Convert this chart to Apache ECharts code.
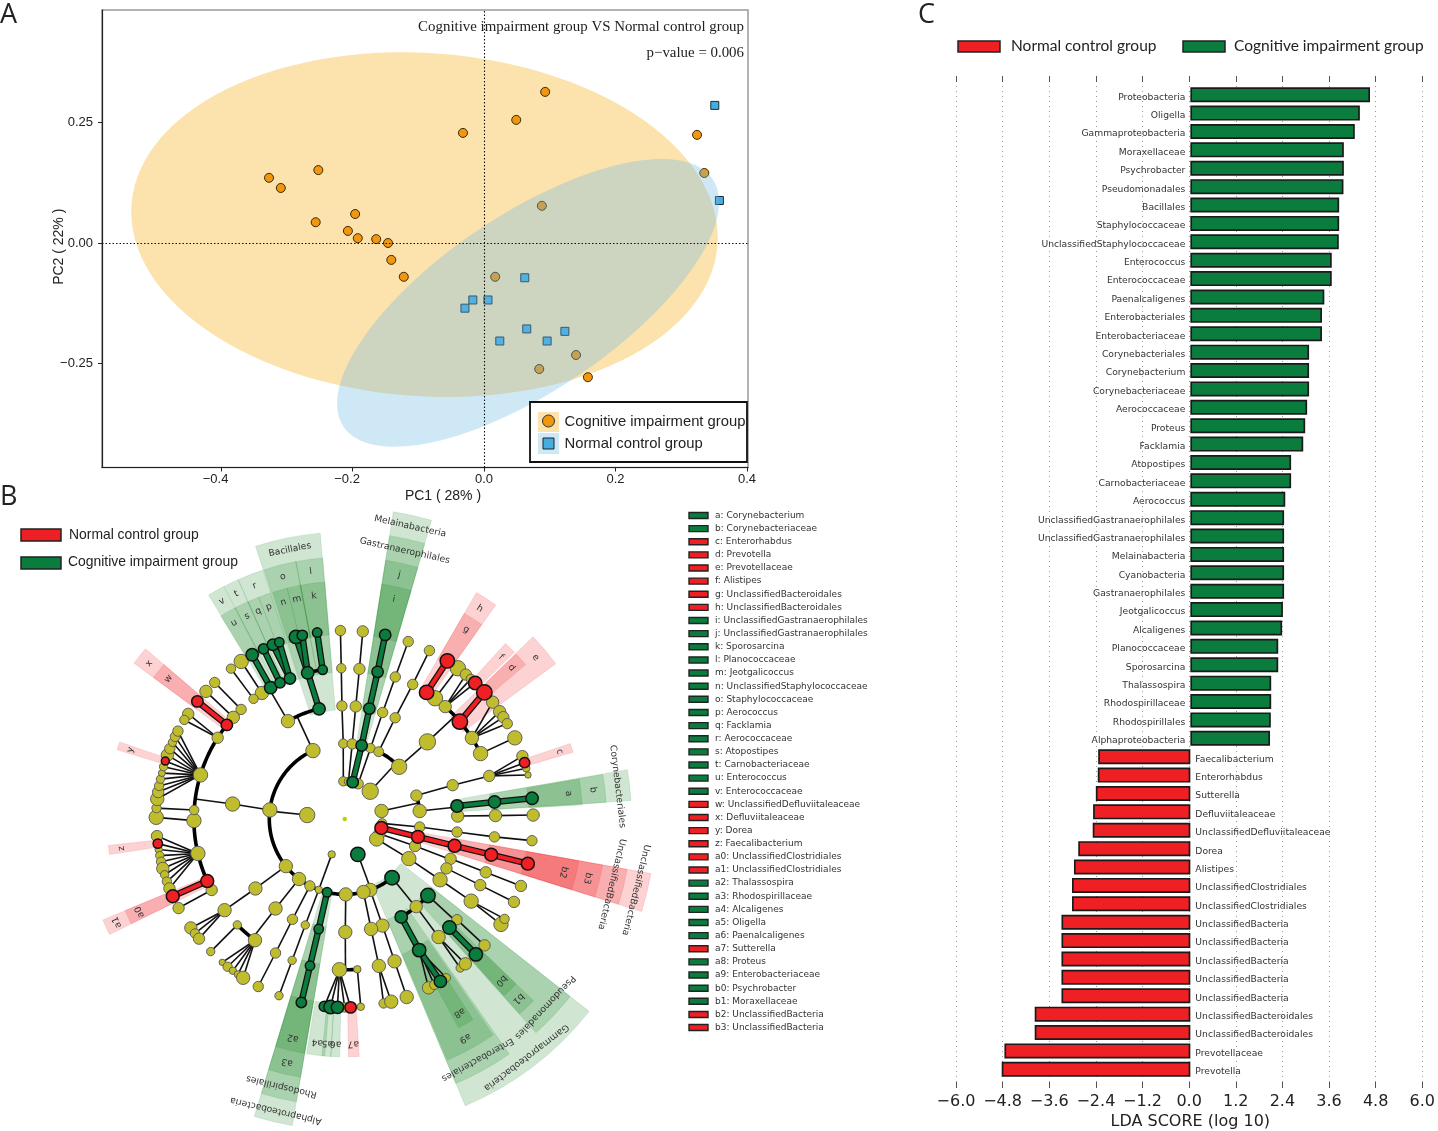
<!DOCTYPE html>
<html><head><meta charset="utf-8">
<style>html,body{margin:0;padding:0;background:#fff}#c{width:1438px;height:1131px}</style>
<script src="https://cdn.jsdelivr.net/npm/echarts@6/dist/echarts.min.js"></script>
</head><body><div id="c"></div>
<script>
// ---------- Panel A data: PCoA scores [PC1, PC2]
const pcoaCognitive = [[0.093,0.313],[0.049,0.255],[-0.032,0.228],[0.324,0.224],[0.335,0.145],[0.088,0.077],[-0.252,0.151],[-0.327,0.135],[-0.309,0.114],[-0.196,0.060],[-0.256,0.043],[-0.207,0.025],[-0.192,0.010],[-0.164,0.008],[-0.146,0.000],[-0.141,-0.035],[-0.122,-0.070],[0.017,-0.070],[0.140,-0.232],[0.084,-0.261],[0.158,-0.278]];
const pcoaNormal = [[0.351,0.285],[0.358,0.088],[0.062,-0.072],[-0.017,-0.118],[0.006,-0.118],[-0.029,-0.135],[0.065,-0.178],[0.123,-0.183],[0.024,-0.203],[0.096,-0.203]];
// confidence ellipses: centre x, centre y, half-extent x, half-extent y, correlation
const ellipseCognitive = [-0.0905,0.038,0.446,0.357,-0.075];
const ellipseNormal = [0.067,-0.124,0.2905,0.298,0.70];
const pcTicksX = [-0.4,-0.2,0,0.2,0.4];
const pcTicksY = [-0.25,0,0.25];

// ---------- Panel C data: LDA scores
const ldaTaxa = ['Proteobacteria','Oligella','Gammaproteobacteria','Moraxellaceae','Psychrobacter','Pseudomonadales','Bacillales','Staphylococcaceae','UnclassifiedStaphylococcaceae','Enterococcus','Enterococcaceae','Paenalcaligenes','Enterobacteriales','Enterobacteriaceae','Corynebacteriales','Corynebacterium','Corynebacteriaceae','Aerococcaceae','Proteus','Facklamia','Atopostipes','Carnobacteriaceae','Aerococcus','UnclassifiedGastranaerophilales','UnclassifiedGastranaerophilales','Melainabacteria','Cyanobacteria','Gastranaerophilales','Jeotgalicoccus','Alcaligenes','Planococcaceae','Sporosarcina','Thalassospira','Rhodospirillaceae','Rhodospirillales','Alphaproteobacteria','Faecalibacterium','Enterorhabdus','Sutterella','Defluviitaleaceae','UnclassifiedDefluviitaleaceae','Dorea','Alistipes','UnclassifiedClostridiales','UnclassifiedClostridiales','UnclassifiedBacteria','UnclassifiedBacteria','UnclassifiedBacteria','UnclassifiedBacteria','UnclassifiedBacteria','UnclassifiedBacteroidales','UnclassifiedBacteroidales','Prevotellaceae','Prevotella'];
const ldaScores = [4.60,4.34,4.21,3.93,3.93,3.92,3.81,3.81,3.80,3.62,3.62,3.43,3.37,3.37,3.04,3.04,3.04,2.99,2.94,2.89,2.58,2.58,2.43,2.40,2.40,2.40,2.40,2.40,2.37,2.35,2.25,2.25,2.07,2.07,2.06,2.04,-2.36,-2.37,-2.42,-2.49,-2.50,-2.87,-2.98,-3.03,-3.03,-3.30,-3.30,-3.30,-3.30,-3.30,-3.985,-3.985,-4.76,-4.83];

// ---------- Panel B data: cladogram nodes
// [clade path, bearing in degrees, node size, group]; path length is the taxonomic ring, path minus last char is the parent
const G='g', R='r';
const cladeNodes = [
['A',357.9,9],['A1',358.9,9],['A11',358.6,10],['A111',358.7,9],['A1111',358.7,10],
['B',5.7,8],['B1',5.7,10],['B11',5.6,11],['B111',5.6,11],['B1111',5.5,11],
['C',12.2,11,G],['C1',13,11,G],['C11',12.6,11,G],['C111',12.6,11,G],['C1111',12.4,11,G],
['D',20.9,10],['D1',20,9],['D11',19.6,10],['D111',19.6,10],['D1111',19.7,10],
['E',42.6,16],['E1',26.8,9.5],['E11',26.5,10],['E111',26.8,10],['E1111',26.7,10],['E2',46.2,15],['E21',47,16],
['E211',32.9,14,R],['E2111',33,14,R],['E212',36.8,15],['E2121',36.9,15],['E213',41.8,12],['E2131',40,11],['E2133',42,9],['E2132',43.8,13,R],
['E214',49.8,15,R],['E2141',47.8,15,R],['E215',57.5,13],['E2151',51.7,12],['E2152',55.3,12],['E2153',57.3,11],['E2154',59.6,10],['E216',64.3,14],['E2161',64.5,14],
['F',77.7,13],['F1',71.9,11],['F11',72.6,11],['F111',73.4,11],['F1111',70.5,11],['F1113',74.4,7],['F1114',76.5,6],['F1112',72.6,10,R],
['F2',83.9,13],['F21',83.4,12,G],['F211',83.5,12,G],['F2111',83.7,12,G],['F22',88.5,12],['F221',88.7,12],['F2211',88.8,12],
['G',96.6,9],['G1',96.1,10],['G11',96.6,10],['G111',96.8,10],['G1111',96.6,10],
['I',113,11],['I1',111,11],['I11',110.6,11],['I111',110.7,11],['I1111',110.8,11],['I12',115.9,11],['I121',116,11],['I1211',116.1,11],
['J',122,14],['J1',121.7,14],['J11',122.5,14],['J111',123,14],['J1111',124,14],['J1112',122,9],
['H',103.7,12.5,R],['H1',103.7,12.5,R],['H11',103.7,12.5,R],['H111',103.7,12.5,R],['H1111',103.7,12.5,R],
['K',159.6,14,G],['K1',141.1,14,G],['K11',132.6,14,G],['K111',136,13,G],['K1111',135.9,13,G],['K112',131.9,10],['K1121',132.1,11],
['K12',140.8,12],['K121',141.5,13],['K1211',142.2,8],['K1212',140.2,12],
['K13',150,12,G],['K131',150.4,13,G],['K1312',147.4,8],['K1313',153.6,12],['K1314',151.6,9],['K1311',149.5,12,G],
['K2',160.2,13],['K21',160.5,13],['K211',160.7,13],['K2111',160.8,13],
['K3',165.6,13],['K31',166.5,13],['K311',166.9,13],['K3111',168.1,9],['K3112',165.7,13],
['K4',179.2,13],['K41',179.7,13],['K411',182,14],['K4114',180,9],['K4111',186.2,10,G],['K4112',184.3,13,G],['K4113',182.2,12,G],['K4115',178.2,11,R],['K412',175.2,7],['K4121',175.1,7],
['K5',193.5,9,G],['K51',193.3,9,G],['K511',193.3,9,G],['K5111',193.3,10,G],
['K6',207.5,10],['K61',207.5,10],['K611',207.3,10],['K6111',207.3,10],
['K7',217.3,13],['K71',217.7,13],['K711',216.5,13],['K7111',220.5,6],['K7112',218.4,9],['K7113',216.4,7],['K7114',214.5,7],['K7115',212.6,13],['K712',225.4,8],['K7121',225.3,8],
['L',200.2,7],['L1',200.1,7],['L11',200.4,8],['L111',200.4,8],['L1111',200.4,8],
['M',276,15],['M1',231.3,13],['M11',232.1,13],['M111',232.8,13],['M1111',234.7,12],['M1112',232.6,9],['M1113',230.6,11],
['M2',276.9,14],['M21',277.6,14],
['M212',241.9,11],['M2121',241.8,11],['M213',256.8,14],['M2131',264.8,11],['M2133',260.7,7],['M2134',258.8,8],['M2135',256.9,9],['M2136',254.8,12],['M2137',252.8,8],['M2138',250.6,9],['M2139',248.4,11],['M2132',262.5,9,R],
['M211',245.7,12.5,R],['M2111',245.8,12.5,R],
['M214',269.4,14],['M2141',270.5,14],['M215',273.4,9],['M2151',273.3,9],
['M216',287,14],['M216a',276.1,13],['M216b',278.2,11],['M216c',280.1,9],['M216d',282.2,8],['M216e',284.1,6.5],['M216f',286.1,8],['M216h',289.8,12],['M216i',291.9,10],['M216j',294,8],['M216k',295.9,9.5],['M216l',297.8,10],['M216g',287.9,7.5,R],
['M217',302.6,11],['M2171',303.9,11],['M2172',301.7,9],['M219',312.4,12],['M2191',312.6,12],['M21a',316.6,10],['M21a1',316.4,10],
['M218',308.6,11,R],['M2181',308.6,11,R],
['M3',335.1,14],['M31',329.9,13],['M311',326.7,13],['M3111',326.7,14],['M312',322.8,9],['M3121',322.9,9],
['M313',330.6,12,G],['M3131',330.6,12,G],['M314',334.6,10,G],['M3141',334.5,10,G],['M315',338.7,11,G],['M3151',337.6,11,G],['M3152',339.7,9,G],
['M32',346.9,12,G],['M321',345.8,12,G],['M3211',345,13,G],['M3212',347,10,G],['M322',351.6,9,G],['M3221',351.6,9,G]
];
const cladeRoot = [[0,0,4]];
const cladeExtraArcs = [[2,217.3,231.3]];
// shaded wedges: [label, ring, centre bearing, half span, group]
const cladeWedges = [
['Gammaproteobacteria',2,142.7,14.5,G],['Pseudomonadales',3,133.2,5,G],['b1',4,136,2.1,G],['b0',5,135.9,2,G],
['Enterobacteriales',3,151.1,6.1,G],['a9',4,151.2,5.7,G],['a8',5,149.4,2,G],
['Corynebacteriales',3,83.2,3.1,G],['b',4,83.3,3.1,G],['a',5,83.5,3.1,G],
['c',5,72.6,1.1,R],['e',4,49.8,3.85,R],['d',5,47.8,1.7,R],['f',5,44,1.5,R],
['h',4,32.7,2.5,R],['g',5,32.7,2.5,R],
['Melainabacteria',2,12.6,3.6,G],['Gastranaerophilales',3,12.6,3.6,G],['j',4,12.6,3.6,G],['i',5,12.6,3.6,G],
['Bacillales',3,348.5,6.6,G],['l',4,352.2,3,G],['k',5,352.2,3,G],['o',4,345.7,3.6,G],['n',5,344.2,1.8,G],['m',5,347.7,1.7,G],
['p',5,340.3,1.5,G],['q',5,337.4,1.4,G],['s',5,334.3,1.7,G],['u',5,330.6,2,G],['r',4,338.9,2.9,G],['t',4,334.3,1.7,G],['v',4,330.6,1.9,G],
['x',4,308.5,2,R],['w',5,308.5,2,R],['y',5,287.9,1,R],['z',5,262.5,1.1,R],['a1',4,245.6,1.75,R],['a0',5,245.6,1.75,R],
['Alphaproteobacteria',2,193.3,3.6,G],['Rhodospirillales',3,193.3,3.6,G],['a3',4,193.3,3.6,G],['a2',5,193.3,3.6,G],
['a4',5,187,2.2,G],['a5',5,184.4,1.1,G],['a6',5,182.3,1.1,G],['a7',5,177.8,1.3,R],
['UnclassifiedBacteria',2,103.7,3.6,R],['UnclassifiedBacteria',3,103.7,3.6,R],['b3',4,103.7,3.6,R],['b2',5,103.7,3.6,R]
];
const cladeKey = [['a: Corynebacterium',G],['b: Corynebacteriaceae',G],['c: Enterorhabdus',R],['d: Prevotella',R],['e: Prevotellaceae',R],['f: Alistipes',R],['g: UnclassifiedBacteroidales',R],['h: UnclassifiedBacteroidales',R],['i: UnclassifiedGastranaerophilales',G],['j: UnclassifiedGastranaerophilales',G],['k: Sporosarcina',G],['l: Planococcaceae',G],['m: Jeotgalicoccus',G],['n: UnclassifiedStaphylococcaceae',G],['o: Staphylococcaceae',G],['p: Aerococcus',G],['q: Facklamia',G],['r: Aerococcaceae',G],['s: Atopostipes',G],['t: Carnobacteriaceae',G],['u: Enterococcus',G],['v: Enterococcaceae',G],['w: UnclassifiedDefluviitaleaceae',R],['x: Defluviitaleaceae',R],['y: Dorea',R],['z: Faecalibacterium',R],['a0: UnclassifiedClostridiales',R],['a1: UnclassifiedClostridiales',R],['a2: Thalassospira',G],['a3: Rhodospirillaceae',G],['a4: Alcaligenes',G],['a5: Oligella',G],['a6: Paenalcaligenes',G],['a7: Sutterella',R],['a8: Proteus',G],['a9: Enterobacteriaceae',G],['b0: Psychrobacter',G],['b1: Moraxellaceae',G],['b2: UnclassifiedBacteria',R],['b3: UnclassifiedBacteria',R]];

// ---------- styling
const GREEN='#0a7d3e', RED='#ee2024', YEL='#bfbd2e';
const colorOf = g => g===G?GREEN:RED;
const wedgeOuter = {5:6.31,4:6.95,3:7.61,2:8.25};
const wedgeText = {5:5.97,4:6.63,3:7.29,2:7.95};
const minus = s => String(s).replace('-','\u2212');

// ---------- cladogram edges built from the node paths
const nodeById = {}; cladeNodes.forEach(n=>nodeById[n[0]]=n);
const kids = {}; cladeNodes.forEach(n=>{ if(n[0].length>1){const p=n[0].slice(0,-1); (kids[p]=kids[p]||[]).push(n);} });
const cladeEdges = [];
const arcPts = (ring,a,b)=>{const o=[],lo=Math.min(a,b),hi=Math.max(a,b);for(let t=lo;t<hi;t+=1)o.push([ring,t]);o.push([ring,hi]);return o;};
Object.keys(kids).forEach(pid=>{
  const P=nodeById[pid], cs=kids[pid], pr=pid.length, cr=pr+1;
  if(cs.length===1||cr===5){
    cs.forEach(c=>cladeEdges.push({pts:[[pr,P[1]],[cr,c[1]]],kind:(P[3]&&c[3]&&P[3]===c[3])?c[3]:'thin'}));
  } else {
    const bs=cs.map(c=>c[1]);
    cladeEdges.push({pts:[[pr,P[1]],[cr,P[1]]],kind:'thin'});
    cladeEdges.push({pts:arcPts(cr,Math.min(...bs),Math.max(...bs)),kind:'arc'});
    cs.forEach(c=>{ if(P[3]&&c[3]===P[3]&&Math.abs(c[1]-P[1])<3) cladeEdges.push({pts:[[pr,P[1]],[cr,c[1]]],kind:c[3]}); });
  }
});
cladeExtraArcs.forEach(a=>cladeEdges.push({pts:arcPts(a[0],a[1],a[2]),kind:'arc'}));
cladeEdges.sort((a,b)=>(a.kind===G||a.kind===R?1:0)-(b.kind===G||b.kind===R?1:0));

function ellipseRender(fill){
  return function(params,api){
    const cx=api.value(0),cy=api.value(1),sx=api.value(2),sy=api.value(3),rho=api.value(4),pts=[];
    for(let i=0;i<120;i++){const t=i/120*Math.PI*2;
      pts.push(api.coord([cx+sx*Math.cos(t),cy+sy*(rho*Math.cos(t)+Math.sqrt(1-rho*rho)*Math.sin(t))]));}
    return {type:'polygon',shape:{points:pts},style:{fill:fill,stroke:null}};
  };
}
const scat = (arr)=>arr.map(n=>[n[0].length,n[1],n[2]]);
const nodeSeries = (arr,fill,bc,bw,z)=>({type:'scatter',coordinateSystem:'polar',data:scat(arr),symbolSize:v=>v[2]+0.4,
  itemStyle:{color:fill,borderColor:bc,borderWidth:bw,opacity:1},z:z,silent:true,clip:false,animation:false});

const keyGraphics=[];
cladeKey.forEach((k,i)=>{
  const y=515.5+i*13.13;
  keyGraphics.push({type:'rect',shape:{x:689,y:y-3,width:19,height:6},style:{fill:colorOf(k[1]),stroke:'#222',lineWidth:1.4}});
  keyGraphics.push({type:'text',x:715,y:y,style:{text:k[0],font:'9px "DejaVu Sans"',fill:'#333',verticalAlign:'middle'}});
});
const txt=(x,y,t,font,extra)=>Object.assign({type:'text',x:x,y:y,style:Object.assign({text:t,font:font,fill:'#222',verticalAlign:'middle'},extra||{})});
const swatch=(x,y,w,h,fill)=>({type:'rect',shape:{x:x,y:y,width:w,height:h},style:{fill:fill,stroke:'#222',lineWidth:1.5}});
const negPad = '\u00a0\u00a0\u00a0';

const option={
  animation:false,backgroundColor:'#fff',
  grid:[
    {left:102,top:10,width:646,height:457.5,show:true,borderColor:'#999',borderWidth:1.5,backgroundColor:'#fff'},
    {left:956,top:76,width:468.7,height:1012,show:false},
    {left:956,top:85.5,width:468.7,height:993,show:false}
  ],
  polar:{center:[344.7,819],radius:[0,339.3]},
  radiusAxis:{min:0,max:9,show:false,axisLine:{show:false},axisTick:{show:false},axisLabel:{show:false},splitLine:{show:false}},
  angleAxis:{min:0,max:360,startAngle:90,show:false,axisLine:{show:false},axisTick:{show:false},axisLabel:{show:false},splitLine:{show:false}},
  xAxis:[
    {gridIndex:0,type:'value',min:-0.581,max:0.4015,name:'PC1 ( 28% )',nameLocation:'middle',nameGap:22,
      nameTextStyle:{fontSize:14,fontFamily:'Liberation Sans',color:'#222',padding:[0,0,0,36]},
      axisLine:{lineStyle:{color:'#222',width:1.2},onZero:false},axisTick:{customValues:pcTicksX,length:4,lineStyle:{color:'#222'}},
      axisLabel:{customValues:pcTicksX,formatter:v=>v<0?minus(v.toFixed(1))+negPad:v.toFixed(1),fontFamily:'Liberation Sans',fontSize:13,color:'#222',margin:5,showMinLabel:true,showMaxLabel:true},splitLine:{show:false}},
    {gridIndex:1,type:'value',min:-6,max:6,interval:1.2,axisLine:{show:false},axisTick:{inside:true,length:6,lineStyle:{color:'#555',width:1}},
      axisLabel:{formatter:v=>minus(v.toFixed(1)),fontFamily:'DejaVu Sans',fontSize:16,color:'#222',margin:6},
      splitLine:{show:true,lineStyle:{color:'#999',type:[1,4],width:1}}},
    {gridIndex:1,type:'value',min:-6,max:6,interval:1.2,position:'top',axisLine:{show:false},axisTick:{inside:true,length:6,lineStyle:{color:'#555',width:1}},axisLabel:{show:false},splitLine:{show:false}},
    {gridIndex:2,type:'value',min:-6,max:6,show:false,splitLine:{show:false}}
  ],
  yAxis:[
    {gridIndex:0,type:'value',min:-0.465,max:0.4826,name:'PC2 ( 22% )',nameLocation:'middle',nameGap:36,nameMoveOverlap:false,
      nameTextStyle:{fontFamily:'Liberation Sans',fontSize:14,color:'#222',padding:[0,16,0,0]},
      axisLine:{lineStyle:{color:'#222',width:1.2},onZero:false},axisTick:{customValues:pcTicksY,length:4,lineStyle:{color:'#222'}},
      axisLabel:{customValues:pcTicksY,formatter:v=>minus(v.toFixed(2)),fontFamily:'Liberation Sans',fontSize:13,color:'#222',margin:9},splitLine:{show:false}},
    {gridIndex:1,type:'value',min:0,max:1,show:false,splitLine:{show:false}},
    {gridIndex:2,type:'category',data:ldaTaxa,inverse:true,show:false}
  ],
  series:[
    {type:'custom',xAxisIndex:0,yAxisIndex:0,data:[ellipseCognitive],renderItem:ellipseRender('#fce2ad'),z:1,silent:true,clip:false},
    {type:'scatter',xAxisIndex:0,yAxisIndex:0,data:pcoaCognitive,symbol:'circle',symbolSize:9,itemStyle:{color:'#f0960f',borderColor:'#3a2a08',borderWidth:1,opacity:1},z:2,silent:true},
    {type:'scatter',xAxisIndex:0,yAxisIndex:0,data:pcoaNormal,symbol:'rect',symbolSize:8,itemStyle:{color:'#45aee0',borderColor:'#1c2c36',borderWidth:1,opacity:1},z:2,silent:true},
    {type:'custom',xAxisIndex:0,yAxisIndex:0,data:[ellipseNormal],renderItem:ellipseRender('rgba(108,184,228,0.33)'),z:3,silent:true,clip:false},
    {type:'scatter',xAxisIndex:0,yAxisIndex:0,data:[],z:4,silent:true,
      markLine:{silent:true,symbol:'none',animation:false,label:{show:false},lineStyle:{color:'#111',type:[1.5,2],width:1.1},data:[{xAxis:0},{yAxis:0}]}},

    {type:'bar',xAxisIndex:3,yAxisIndex:2,stack:'lda',barWidth:15,silent:true,z:3,
      data:ldaScores.map(v=>v>0?v:null),itemStyle:{color:GREEN,borderColor:'#1a1a1a',borderWidth:1.7},
      label:{show:true,formatter:'{b}',position:[-5,'50%'],offset:[0,2.5],align:'right',verticalAlign:'middle',fontFamily:'DejaVu Sans',fontSize:9.2,color:'#333'}},
    {type:'bar',xAxisIndex:3,yAxisIndex:2,stack:'lda',barWidth:15,silent:true,z:3,
      data:ldaScores.map(v=>v<0?v:null),itemStyle:{color:RED,borderColor:'#1a1a1a',borderWidth:1.7},
      label:{show:true,formatter:'{b}',position:['100%','50%'],offset:[5,2.5],align:'left',verticalAlign:'middle',fontFamily:'DejaVu Sans',fontSize:9.2,color:'#333'}},

    {type:'custom',coordinateSystem:'polar',data:cladeWedges.map(w=>[w[1],w[2],w[3]]),z:1,silent:true,clip:false,
      renderItem:function(params,api){
        const w=cladeWedges[params.dataIndex],ring=w[1],b=w[2],hs=w[3];
        const c=api.coord([0,b]),p0=api.coord([ring-0.1,b]),p1=api.coord([wedgeOuter[ring],b]);
        const r0=Math.hypot(p0[0]-c[0],p0[1]-c[1]),r=Math.hypot(p1[0]-c[0],p1[1]-c[1]);
        return {type:'sector',shape:{cx:c[0],cy:c[1],r0:r0,r:r,startAngle:(b-hs-90)*Math.PI/180,endAngle:(b+hs-90)*Math.PI/180,clockwise:true},
          style:{fill:w[4]===G?'rgba(20,130,30,0.2)':'rgba(238,32,36,0.2)',stroke:w[4]===G?'rgba(20,130,30,0.12)':'rgba(238,32,36,0.12)',lineWidth:1}};
      }},
    {type:'custom',coordinateSystem:'polar',data:cladeEdges.map(e=>e.pts[0]),z:5,silent:true,clip:false,
      renderItem:function(params,api){
        const e=cladeEdges[params.dataIndex],pts=e.pts.map(p=>api.coord(p));
        if(e.kind==='thin') return {type:'polyline',shape:{points:pts},style:{fill:null,stroke:'#111',lineWidth:1.6}};
        if(e.kind==='arc') return {type:'polyline',shape:{points:pts},style:{fill:null,stroke:'#000',lineWidth:3.6}};
        return {type:'group',children:[
          {type:'polyline',shape:{points:pts},style:{fill:null,stroke:'#111',lineWidth:6.5}},
          {type:'polyline',shape:{points:pts},style:{fill:null,stroke:colorOf(e.kind),lineWidth:4}}]};
      }},
    nodeSeries(cladeRoot.map(r=>['',r[1],r[2]]),'#bcd000','#bcd000',0,6),
    nodeSeries(cladeNodes.filter(n=>!n[3]),YEL,'#555',0.9,6),
    nodeSeries(cladeNodes.filter(n=>n[3]===G),GREEN,'#111',1.5,7),
    nodeSeries(cladeNodes.filter(n=>n[3]===R),RED,'#111',1.5,7),
    {type:'custom',coordinateSystem:'polar',data:cladeWedges.map(w=>[wedgeText[w[1]],w[2]]),z:8,silent:true,clip:false,
      renderItem:function(params,api){
        const w=cladeWedges[params.dataIndex],p=api.coord([wedgeText[w[1]],w[2]]);
        return {type:'text',x:p[0],y:p[1],rotation:-w[2]*Math.PI/180,
          style:{text:w[0],font:'9.2px "DejaVu Sans"',fill:'#333',align:'center',verticalAlign:'middle'}};
      }}
  ],
  graphic:{elements:[
    txt(0,15,'A','27px "Open Sans"'),txt(0,497,'B','27px "Open Sans"'),txt(918,15,'C','27px "Open Sans"'),
    txt(744,27,'Cognitive impairment group VS Normal control group','14.9px "Liberation Serif"',{align:'right'}),
    txt(744,53.5,'p\u2212value = 0.006','14.9px "Liberation Serif"',{align:'right'}),
    {type:'rect',z:50,shape:{x:530,y:402,width:217,height:60},style:{fill:'#fff',stroke:'#111',lineWidth:1.8}},
    {type:'rect',z:51,shape:{x:538,y:412,width:21,height:20},style:{fill:'#fce2ad'}},
    {type:'rect',z:51,shape:{x:538,y:433,width:21,height:21},style:{fill:'#cfe8f6'}},
    {type:'circle',z:52,shape:{cx:548.5,cy:421,r:6},style:{fill:'#f0960f',stroke:'#333',lineWidth:1}},
    {type:'rect',z:52,shape:{x:543,y:438,width:11,height:11},style:{fill:'#45aee0',stroke:'#222',lineWidth:1}},
    Object.assign(txt(564.5,421.5,'Cognitive impairment group','14.8px "Liberation Sans"'),{z:52}),
    Object.assign(txt(564.5,443.5,'Normal control group','14.8px "Liberation Sans"'),{z:52}),
    swatch(21,529,40,12,RED),txt(69,535.5,'Normal control group','13.9px "Liberation Sans"'),
    swatch(21,557,40,12,GREEN),txt(68,562.5,'Cognitive impairment group','13.9px "Liberation Sans"'),
    swatch(958,41,42,11,RED),txt(1011,46,'Normal control group','15.5px Lato'),
    swatch(1183,41,42,11,GREEN),txt(1234,46,'Cognitive impairment group','15.5px Lato'),
    txt(1190.3,1122,'LDA SCORE (log 10)','16px "DejaVu Sans"',{align:'center'})
  ].concat(keyGraphics)}
};
const chart=echarts.init(document.getElementById('c'),null,{renderer:'canvas',width:1438,height:1131});
chart.setOption(option);
</script></body></html>
